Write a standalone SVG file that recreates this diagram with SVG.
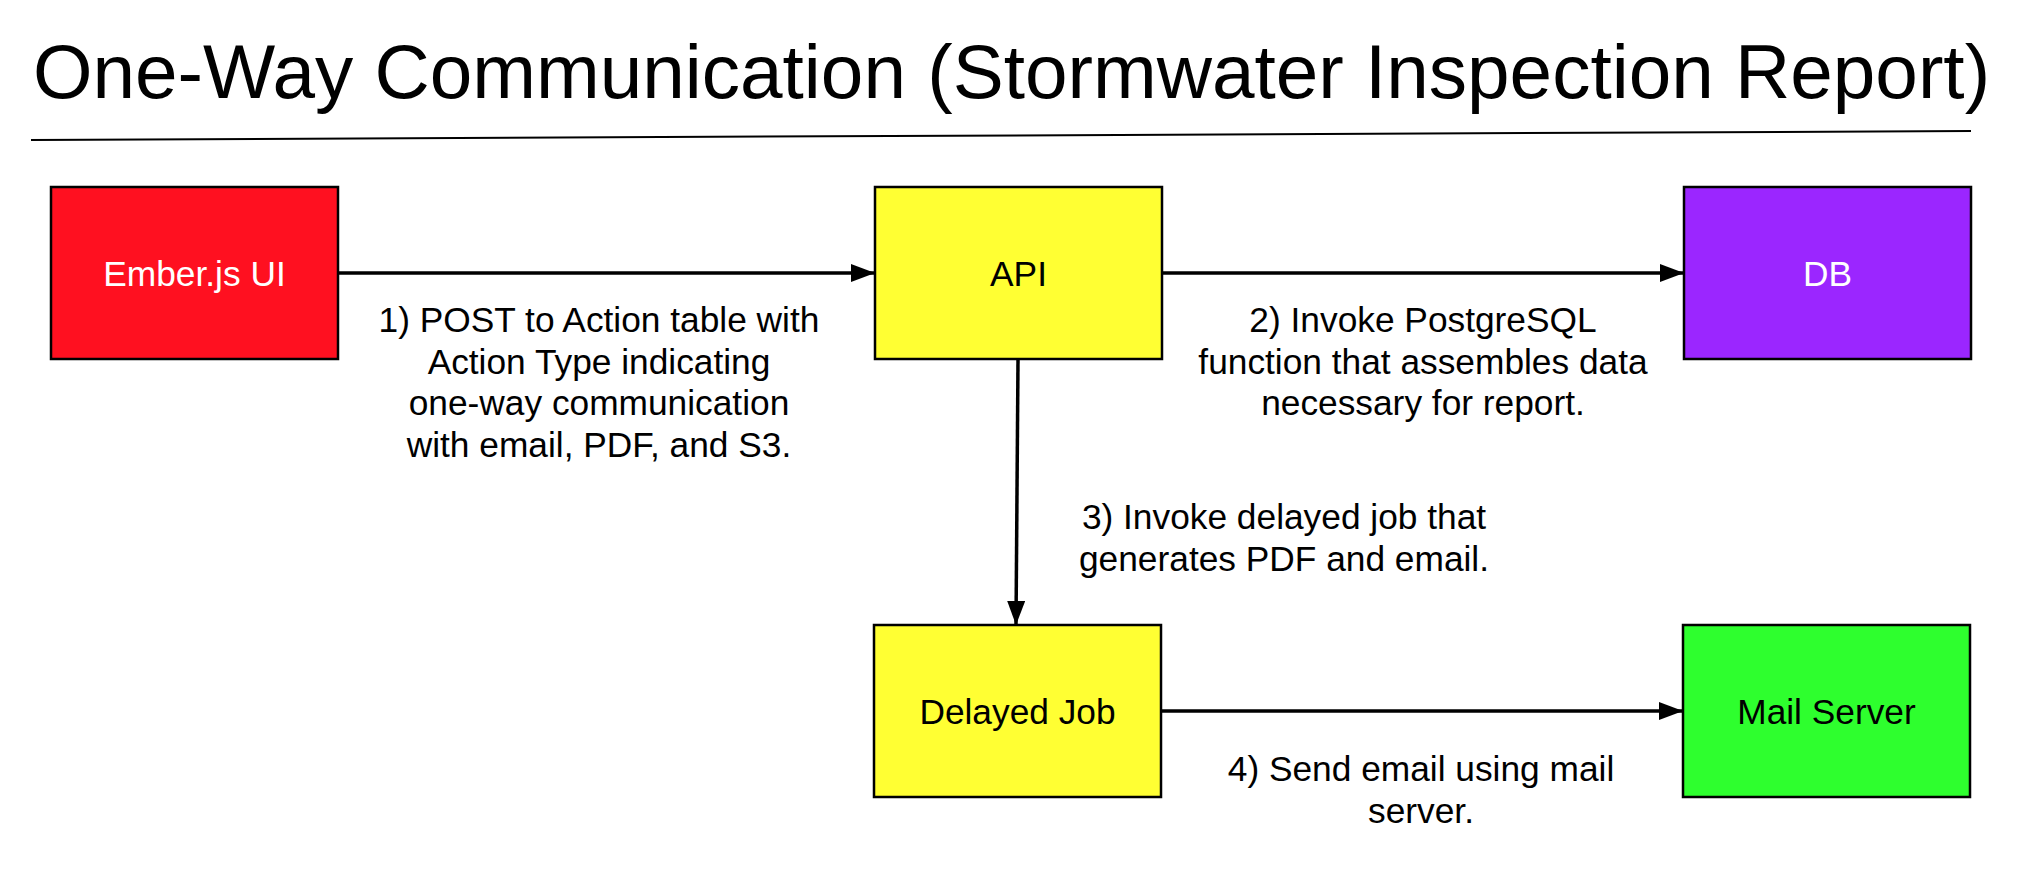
<svg xmlns="http://www.w3.org/2000/svg" width="2040" height="872" viewBox="0 0 2040 872">
  <style>
    text { font-family: "Liberation Sans", Arial, sans-serif; }
    .title { font-size: 76.5px; fill: #000; }
    .node rect { stroke: #000; stroke-width: 2.5; }
    .nlabel { font-size: 35.3px; text-anchor: middle; }
    .elabel { font-size: 35.3px; text-anchor: middle; fill: #000; }
    .edge { stroke: #000; stroke-width: 3.5; fill: none; }
  </style>
  <defs>
    <marker id="arrow" markerUnits="userSpaceOnUse" markerWidth="24" markerHeight="18" refX="24" refY="9" orient="auto">
      <path d="M0,0 L24,9 L0,18 Z" fill="#000"/>
    </marker>
  </defs>
  <rect width="2040" height="872" fill="#fff"/>
  <text class="title" x="33" y="98">One-Way Communication (Stormwater Inspection Report)</text>
  <line x1="31" y1="140" x2="1971" y2="131" stroke="#000" stroke-width="2"/>

  <g id="connectors">
    <line class="edge" x1="339" y1="273" x2="875" y2="273" marker-end="url(#arrow)"/>
    <line class="edge" x1="1163" y1="273" x2="1684" y2="273" marker-end="url(#arrow)"/>
    <line class="edge" x1="1018" y1="360" x2="1016" y2="625" marker-end="url(#arrow)"/>
    <line class="edge" x1="1162" y1="711" x2="1683" y2="711" marker-end="url(#arrow)"/>
    <text class="elabel" x="599"><tspan x="599" y="332">1) POST to Action table with</tspan><tspan x="599" y="373.5">Action Type indicating</tspan><tspan x="599" y="415">one-way communication</tspan><tspan x="599" y="456.5">with email, PDF, and S3.</tspan></text>
    <text class="elabel" x="1423"><tspan x="1423" y="332">2) Invoke PostgreSQL</tspan><tspan x="1423" y="373.5">function that assembles data</tspan><tspan x="1423" y="415">necessary for report.</tspan></text>
    <text class="elabel" x="1284"><tspan x="1284" y="529">3) Invoke delayed job that</tspan><tspan x="1284" y="570.5">generates PDF and email.</tspan></text>
    <text class="elabel" x="1421"><tspan x="1421" y="781">4) Send email using mail</tspan><tspan x="1421" y="822.5">server.</tspan></text>
  </g>

  <g id="ember" class="node">
    <rect x="51" y="187" width="287" height="172" fill="#FF1020"/>
    <text class="nlabel" x="194.5" y="285.5" fill="#fff">Ember.js UI</text>
  </g>
  <g id="api" class="node">
    <rect x="875" y="187" width="287" height="172" fill="#FFFF33"/>
    <text class="nlabel" x="1018.5" y="285.5" fill="#000">API</text>
  </g>
  <g id="db" class="node">
    <rect x="1684" y="187" width="287" height="172" fill="#9B26FF"/>
    <text class="nlabel" x="1827.5" y="285.5" fill="#fff">DB</text>
  </g>
  <g id="delayed-job" class="node">
    <rect x="874" y="625" width="287" height="172" fill="#FFFF33"/>
    <text class="nlabel" x="1017.5" y="723.5" fill="#000">Delayed Job</text>
  </g>
  <g id="mail-server" class="node">
    <rect x="1683" y="625" width="287" height="172" fill="#2EFF2E"/>
    <text class="nlabel" x="1826.5" y="723.5" fill="#000">Mail Server</text>
  </g>
</svg>
